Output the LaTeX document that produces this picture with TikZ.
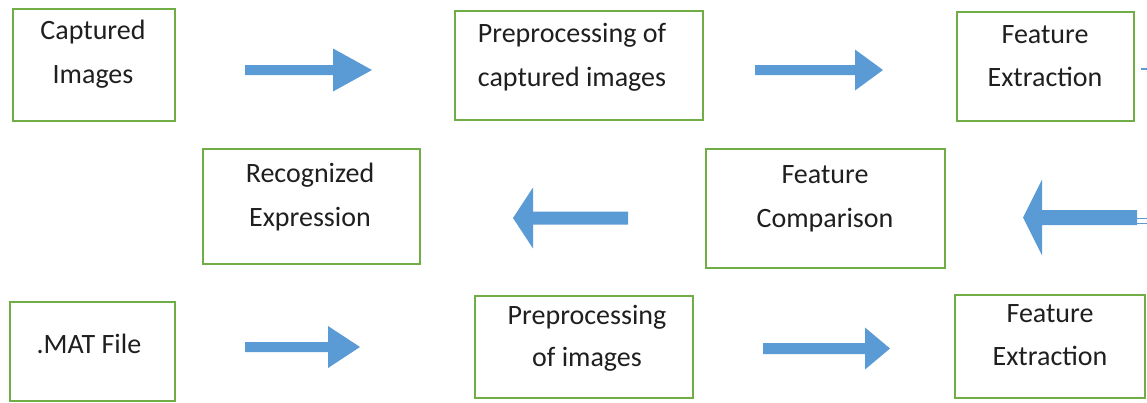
\documentclass[tikz,border=0pt]{standalone}
\usepackage{fontspec}
\setmainfont{Carlito}
\usetikzlibrary{calc}
\definecolor{boxgreen}{HTML}{70AD47}
\definecolor{flowblue}{HTML}{5B9BD5}
\tikzset{
  stagebox/.style={draw=boxgreen, line width=1.8pt, inner sep=0pt, fill=white},
  caption/.style={anchor=base, inner sep=0pt, font=\fontsize{28}{34}\selectfont, text=black!88},
  flow/.style={fill=flowblue},
  stub/.style={draw=flowblue, line width=1.2pt},
}
% block arrow: tail, tip, half shaft width, head length, half head width
\newcommand\blockarrow[5]{%
  \coordinate (hb) at ($(#2)!#4!(#1)$);
  \fill[flow] ($(#1)+(0,#3)$) -- ($(hb)+(0,#3)$) -- ($(hb)+(0,#5)$) -- (#2)
    -- ($(hb)+(0,-#5)$) -- ($(hb)+(0,-#3)$) -- ($(#1)+(0,-#3)$) -- cycle;}
\begin{document}
\begin{tikzpicture}[x=1pt, y=-1pt]
\useasboundingbox (0,0) rectangle (1147,402);

% stage boxes
\node[stagebox, minimum width=162pt, minimum height=112pt] (cap)  at (94,65)     {};
\node[stagebox, minimum width=248pt, minimum height=109pt] (prec) at (579,65.5)  {};
\node[stagebox, minimum width=177pt, minimum height=109pt] (fext) at (1045.5,66.5) {};
\node[stagebox, minimum width=217pt, minimum height=115pt] (rec)  at (311.5,206.5) {};
\node[stagebox, minimum width=239pt, minimum height=119pt] (cmp)  at (825.5,208.5) {};
\node[stagebox, minimum width=165pt, minimum height=99pt]  (mat)  at (92.5,351.5) {};
\node[stagebox, minimum width=218pt, minimum height=102pt] (prei) at (584,347)   {};
\node[stagebox, minimum width=190pt, minimum height=103pt] (fexb) at (1050,346.5) {};

% captions
\node[caption] (cap1)  at (93,39)   {Captured};
\node[caption] (cap2)  at (93,83)   {Images};
\node[caption] (prec1) at (572,42)  {Preprocessing of};
\node[caption] (prec2) at (572,86)  {captured images};
\node[caption] (fext1) at (1045,43) {Feature};
\node[caption] (fext2) at (1045,86) {Extraction};
\node[caption] (rec1)  at (310,182) {Recognized};
\node[caption] (rec2)  at (310,226) {Expression};
\node[caption] (cmp1)  at (825,183) {Feature};
\node[caption] (cmp2)  at (825,227) {Comparison};
\node[caption] (mat1)  at (89,353)  {.MAT File};
\node[caption] (prei1) at (587,324) {Preprocessing};
\node[caption] (prei2) at (587,366) {of images};
\node[caption] (fexb1) at (1050,322) {Feature};
\node[caption] (fexb2) at (1050,365) {Extraction};

% arrow end points
\coordinate (a1s) at (245,70);    \coordinate (a1t) at (372,70);
\coordinate (a2s) at (755,70);    \coordinate (a2t) at (883,70);
\coordinate (a3s) at (628,218);   \coordinate (a3t) at (513,218);
\coordinate (a4s) at (1137,217.5);\coordinate (a4t) at (1023,217.5);
\coordinate (a5s) at (245,347);   \coordinate (a5t) at (360,347);
\coordinate (a6s) at (763,348.5); \coordinate (a6t) at (890,348.5);

\blockarrow{a1s}{a1t}{5}{39pt}{21.5}
\blockarrow{a2s}{a2t}{5}{28pt}{20.5}
\blockarrow{a3s}{a3t}{6.5}{20pt}{30.5}
\blockarrow{a4s}{a4t}{7.5}{19pt}{38}
\blockarrow{a5s}{a5t}{5}{32pt}{21}
\blockarrow{a6s}{a6t}{5.5}{25pt}{21}

% connector stubs running off the right edge
\coordinate (s1) at (1147,69);
\coordinate (s2) at (1147,218.5);
\coordinate (s3) at (1147,223);
\draw[stub] ($(fext.east)+(6,2.5)$) -- (s1);
\draw[stub, line width=0.8pt] ($(a4s)+(0,1)$) -- (s2);
\draw[stub, line width=0.8pt] ($(a4s)+(0,5.5)$) -- (s3);
\end{tikzpicture}
\end{document}
